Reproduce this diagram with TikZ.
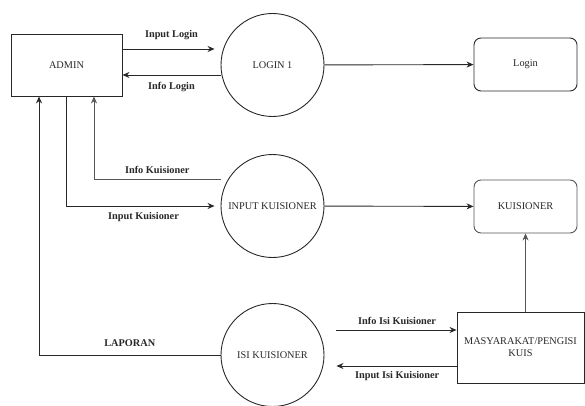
\documentclass[tikz,border=0pt]{standalone}
\usepackage{fontspec}
\setmainfont{Liberation Serif}
\usetikzlibrary{
    arrows.meta,
    calc,
    positioning
}
\definecolor{ink}{RGB}{40,40,40}
\definecolor{muted}{RGB}{85,85,85}
\tikzset{
    line cap=round,
    line join=round,
    entity/.style={
        rectangle,
        draw=ink,
        line width=0.9pt,
        minimum width=111pt,
        minimum height=62pt,
        align=center,
        font=\fontsize{10.3}{12}\selectfont,
        text=ink
    },
    store/.style={
        entity,
        rounded corners=7pt,
        minimum width=103pt,
        minimum height=53pt
    },
    process/.style={
        circle,
        draw=ink,
        line width=0.9pt,
        minimum size=103pt,
        inner sep=0pt,
        align=center,
        font=\fontsize{10.3}{12}\selectfont,
        text=ink
    },
    flowarrow/.style={
        -{Stealth[length=7pt,width=6pt]},
        draw=ink,
        line width=0.9pt
    },
    flowline/.style={
        draw=muted,
        line width=0.9pt
    },
    flowlabel/.style={
        font=\fontsize{10.3}{12}\selectfont\bfseries,
        text=ink
    }
}

\begin{document}
\begin{tikzpicture}[x=1pt, y=-1pt]

\useasboundingbox (0,0) rectangle (585,406);

% --- Entities and stores ---
\node[entity] (admin) at (66.5, 65) {ADMIN};
\node[store] (login) at (525.5, 64.5) {Login};
\node[store, draw=muted] (kuisioner) at (525.5, 206.5) {KUISIONER};
\node[entity, minimum width=127pt, minimum height=71pt] (masyarakat) at (520.5, 347.5) {MASYARAKAT/PENGISI\\KUIS};

% --- Processes ---
\node[process] (login1) at (272.5, 65) {LOGIN 1};
\node[process] (inputk) at (272.5, 206) {INPUT KUISIONER};
\node[process] (isik) at (272.5, 355) {ISI KUISIONER};

% --- Login flows ---
\draw[flowarrow, shorten >=6pt] ([yshift=16pt]admin.east) -- ([yshift=16pt]admin.east -| login1.west)
    node[flowlabel, midway, above=5pt] {Input Login};
\draw[flowarrow] ([yshift=-10pt]login1.west) -- ([yshift=-10pt]login1.west -| admin.east)
    node[flowlabel, midway, below=3pt] {Info Login};
\draw[flowarrow] (login1) -- (login);

% --- Kuisioner flows ---
\draw[flowarrow, draw=muted] ([yshift=27pt]inputk.west) -| ([xshift=27.5pt]admin.south)
    node[flowlabel, pos=0.25, above=2pt] {Info Kuisioner};
\draw[flowarrow, shorten >=6pt] (admin.south) |- (inputk.west)
    node[flowlabel, pos=0.75, below=3pt] {Input Kuisioner};
\draw[flowarrow] (inputk) -- (kuisioner);
\draw[flowarrow, draw=muted] (masyarakat.north -| kuisioner.south) -- (kuisioner.south);

% --- Isi kuisioner flows ---
\draw[flowarrow, shorten <=12pt] ([yshift=17.5pt]masyarakat.west -| isik.east) -- ([yshift=17.5pt]masyarakat.west)
    node[flowlabel, pos=0.55, above=2pt] {Info Isi Kuisioner};
\draw[flowarrow, shorten >=12pt] ([yshift=-18.5pt]masyarakat.west) -- ([yshift=-18.5pt]masyarakat.west -| isik.east)
    node[flowlabel, pos=0.45, below=2pt] {Input Isi Kuisioner};
\draw[flowarrow] (isik.west) -| ([xshift=-27.5pt]admin.south)
    node[flowlabel, pos=0.25, above=5pt] {LAPORAN};

\end{tikzpicture}
\end{document}
